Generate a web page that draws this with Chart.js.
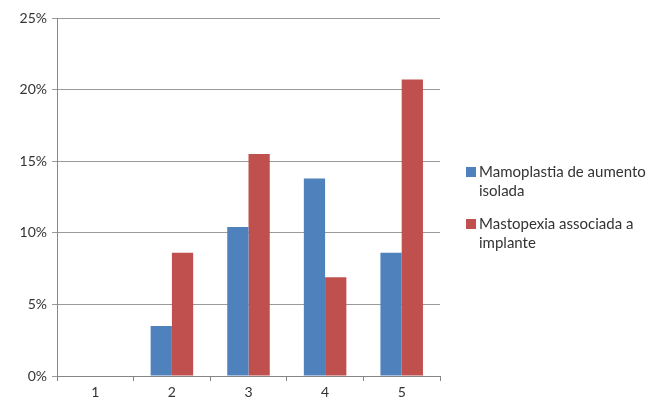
<!DOCTYPE html>
<html>
<head>
<meta charset="utf-8">
<script src="https://cdn.jsdelivr.net/npm/chart.js@4"></script>
<style>
  body { margin: 0; background: #fff; }
  #wrap { position: relative; width: 647px; height: 403px; }
  #legend { position: absolute; left: 466px; top: 162px; font-family: Lato, sans-serif; font-size: 15px; color: #333; line-height: 19px; }
  .item { position: relative; padding-left: 13px; margin-bottom: 14px; }
  .box { position: absolute; left: 0; top: 5px; width: 10px; height: 10px; }
</style>
</head>
<body>
<div id="wrap">
  <canvas id="chart" width="647" height="403"></canvas>
  <div id="legend"></div>
</div>
<script>
const categories = ['1', '2', '3', '4', '5'];
const seriesNames = [['Mamoplastia de aumento', 'isolada'], ['Mastopexia associada a', 'implante']];
const mamoplastia = [0, 3.5, 10.4, 13.8, 8.6];
const mastopexia = [0, 8.6, 15.5, 6.9, 20.7];
const colors = ['#4F81BD', '#C0504D'];

// html legend, the chart.js one can't wrap the labels
const legend = document.getElementById('legend');
seriesNames.forEach((lines, i) => {
  const div = document.createElement('div');
  div.className = 'item';
  div.innerHTML = `<span class="box" style="background:${colors[i]}"></span>${lines.join('<br>')}`;
  legend.appendChild(div);
});

const ctx = document.getElementById('chart').getContext('2d');
new Chart(ctx, {
  type: 'bar',
  data: {
    labels: categories,
    datasets: [
      { label: seriesNames[0].join(' '), data: mamoplastia, backgroundColor: colors[0] },
      { label: seriesNames[1].join(' '), data: mastopexia, backgroundColor: colors[1] }
    ]
  },
  options: {
    responsive: false,
    animation: false,
    datasets: { bar: { categoryPercentage: 0.555, barPercentage: 1 } },
    layout: { padding: { top: 18, right: 207, left: 0, bottom: 0 } },
    plugins: { legend: { display: false }, tooltip: { enabled: false } },
    scales: {
      x: {
        grid: { offset: true, drawOnChartArea: false, tickLength: 5, color: '#868686' },
        border: { color: '#868686' },
        ticks: { color: '#333', font: { family: 'Lato', size: 14 }, padding: 3 },
        afterFit: s => { s.height = 27; }
      },
      y: {
        min: 0, max: 25,
        grid: { tickLength: 5, color: '#9a9a9a' },
        border: { color: '#868686' },
        ticks: { stepSize: 5, color: '#333', font: { family: 'Lato', size: 14 }, padding: 5,
                 callback: v => v + '%' },
        afterFit: s => { s.width = 57; }
      }
    }
  }
});
</script>
</body>
</html>
